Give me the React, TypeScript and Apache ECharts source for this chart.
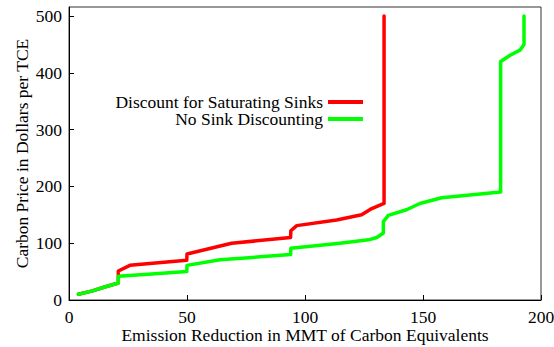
import React, { useEffect, useRef } from "react";
import * as echarts from "echarts";

const seriesNames = ["Discount for Saturating Sinks", "No Sink Discounting"];
const seriesColors = ["#ff0000", "#00ff00"];

const saturatingSinks: [number, number][] = [
  [4, 10], [10, 16], [14.4, 22], [20.9, 30], [20.9, 51], [25.8, 61], [49.9, 70],
  [50, 81], [68.9, 100], [93.9, 110], [94, 122], [96.5, 131], [113.4, 141],
  [124, 150], [128.3, 161], [133.5, 170], [133.5, 500],
];

const noSinkDiscounting: [number, number][] = [
  [4, 10], [10, 16], [14.4, 22], [20.9, 30], [20.9, 42], [35, 46], [49.9, 50],
  [50, 61], [64, 71], [81, 76], [93.9, 80], [94, 91], [114.8, 100], [127, 106],
  [130.4, 110], [133.2, 118], [133.2, 138], [135.3, 149], [143, 159], [148.7, 170],
  [157.9, 180], [182.9, 190], [182.9, 420], [186.9, 431], [191.1, 440], [192.8, 450],
  [192.8, 500],
];

const xTicks = [0, 50, 100, 150, 200];
const yTicks = [0, 100, 200, 300, 400, 500];

const xTitle = "Emission Reduction in MMT of Carbon Equivalents";
const yTitle = "Carbon Price in Dollars per TCE";

const FONT = "Liberation Serif";
const FS = 17.5;

const ts = () => ({ fontFamily: FONT, fontSize: FS, color: "#000" });

export default function App() {
  const ref = useRef<HTMLDivElement>(null);
  useEffect(() => {
    if (!ref.current) return;
    const chart = echarts.init(ref.current, undefined, { renderer: "svg" });
    chart.setOption({
      animation: false,
      grid: {
        left: 69, right: 13, top: 7, bottom: 47,
        outerBoundsMode: "none", containLabel: false,
        show: true, borderColor: "#333", borderWidth: 1,
      },
      legend: [
        {
          data: [seriesNames[0]], orient: "vertical", align: "right",
          right: 191, top: 93, icon: "rect", itemWidth: 35, itemHeight: 4,
          textStyle: { ...ts(), lineHeight: 15 }, padding: 0,
        },
        {
          data: [seriesNames[1]], orient: "vertical", align: "right",
          right: 191, top: 110, icon: "rect", itemWidth: 35, itemHeight: 4,
          textStyle: { ...ts(), lineHeight: 15 }, padding: 0,
        },
      ],
      xAxis: {
        type: "value", min: 0, max: 200, interval: 50,
        name: xTitle, nameLocation: "middle", nameGap: 26, nameMoveOverlap: false,
        nameTextStyle: ts(),
        axisLine: { show: true, lineStyle: { color: "#000", width: 1 } },
        axisTick: { show: true, inside: true, length: 5, lineStyle: { color: "#000" }, customValues: xTicks },
        axisLabel: { fontFamily: FONT, fontSize: FS, color: "#000", margin: 8, customValues: xTicks },
        splitLine: { show: false },
      },
      yAxis: {
        type: "value", min: 0, max: 516,
        name: yTitle, nameLocation: "middle", nameGap: 38, nameMoveOverlap: false,
        nameTextStyle: ts(),
        axisLine: { show: true, lineStyle: { color: "#000", width: 1 } },
        axisTick: { show: true, inside: true, length: 5, lineStyle: { color: "#000" }, customValues: yTicks },
        axisLabel: { fontFamily: FONT, fontSize: FS, color: "#000", margin: 7, customValues: yTicks },
        splitLine: { show: false },
      },
      series: [
        {
          name: seriesNames[0], type: "line", data: saturatingSinks, showSymbol: false,
          color: seriesColors[0], itemStyle: { color: seriesColors[0] },
          lineStyle: { width: 3.5, color: seriesColors[0], join: "round", cap: "round" },
        },
        {
          name: seriesNames[1], type: "line", data: noSinkDiscounting, showSymbol: false,
          color: seriesColors[1], itemStyle: { color: seriesColors[1] },
          lineStyle: { width: 3.5, color: seriesColors[1], join: "round", cap: "round" },
        },
      ],
    });
    return () => chart.dispose();
  }, []);
  return <div ref={ref} style={{ width: 554, height: 347, position: "absolute", left: 0, top: 0 }} />;
}
